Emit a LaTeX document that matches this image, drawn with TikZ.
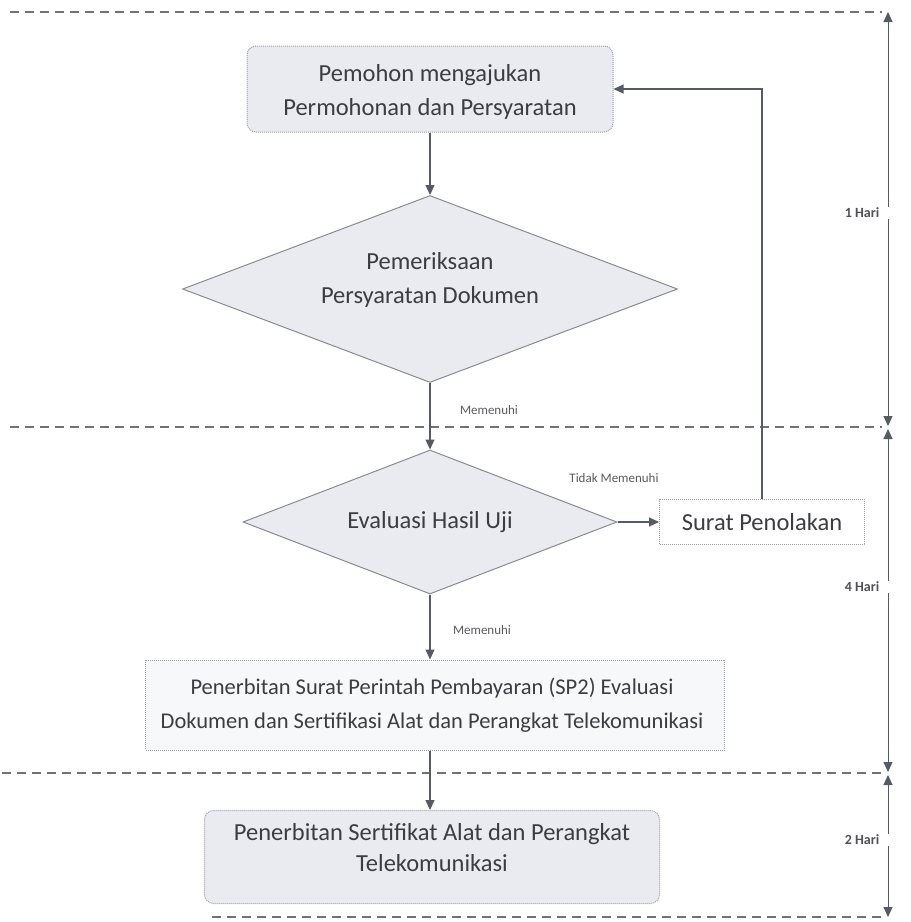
\documentclass[tikz,border=0pt]{standalone}
\usepackage{fontspec}
\setmainfont{Carlito}
\usetikzlibrary{shapes.geometric,arrows.meta}
\definecolor{txt}{HTML}{3C3D42}
\definecolor{ln}{HTML}{555A64}
\definecolor{shfill}{HTML}{E9EBF1}
\definecolor{bxedge}{HTML}{9A9EA8}
\definecolor{dash}{HTML}{6E727A}
\tikzset{
  x=1pt,y=-1pt,
  every node/.style={text=txt},
  flow/.style={draw=ln,line width=1.1pt,-{Triangle[width=9pt,length=10pt]}},
  tline/.style={draw=ln,line width=1pt,-{Triangle[width=9pt,length=10pt]}},
  sep/.style={draw=dash,line width=1.2pt,dash pattern=on 9pt off 6pt},
  big/.style={font=\fontsize{24.5}{34}\selectfont,align=center},
  rbox/.style={draw=bxedge,densely dotted,line width=1pt,fill=shfill,rounded corners=9pt},
  sbox/.style={draw=bxedge,densely dotted,line width=1pt,fill=white,big},
  wbox/.style={draw=bxedge,densely dotted,line width=1pt,fill=shfill!35},
  dec/.style={diamond,draw=ln!70,line width=1pt,fill=shfill,inner sep=0pt,shape aspect=2.6},
  lbl/.style={font=\fontsize{13}{15}\selectfont,text=txt!85},
  hari/.style={font=\fontsize{14}{16}\selectfont\bfseries,text=txt!90,fill=white,inner sep=1pt}
}
\begin{document}
\begin{tikzpicture}
\useasboundingbox (0,0) rectangle (911,922);
% separators
\coordinate (s1a) at (10,12);  \coordinate (s1b) at (882,12);
\coordinate (s2a) at (10,427); \coordinate (s2b) at (882,427);
\coordinate (s3a) at (2,773);  \coordinate (s3b) at (882,773);
\coordinate (s4a) at (212,917); \coordinate (s4b) at (882,917);
\draw[sep] (s1a) -- (s1b);
\draw[sep] (s2a) -- (s2b);
\draw[sep] (s3a) -- (s3b);
\draw[sep] (s4a) -- (s4b);
% shapes
\node[rbox,minimum width=366pt,minimum height=86pt] (b1) at (430,89) {};
\node[dec,minimum width=495pt,minimum height=187pt] (d1) at (430,289) {};
\node[dec,minimum width=374pt,minimum height=144pt] (d2) at (430,522) {};
\node[sbox,minimum width=205pt,minimum height=45pt] (sp) at (762,522) {Surat Penolakan};
\node[wbox,minimum width=579pt,minimum height=90pt] (b3) at (435,705) {};
\node[rbox,minimum width=455pt,minimum height=93pt] (b4) at (432,857) {};
% texts
\node[big] (b1t) at (430,92) {Pemohon mengajukan\\Permohonan dan Persyaratan};
\node[big] (d1t) at (430,280) {Pemeriksaan\\Persyaratan Dokumen};
\node[big] (d2t) at (430,522) {Evaluasi Hasil Uji};
\node[big,font=\fontsize{22.5}{34}\selectfont] (b3t) at (432,705) {Penerbitan Surat Perintah Pembayaran (SP2) Evaluasi\\Dokumen dan Sertifikasi Alat dan Perangkat Telekomunikasi};
\node[big,font=\fontsize{24.5}{31}\selectfont] (b4t) at (432,848) {Penerbitan Sertifikat Alat dan Perangkat\\Telekomunikasi};
% connectors
\draw[flow] (b1.south -| d1.north) -- (d1.north);
\draw[flow] (d1.south) -- (d2.north);
\draw[flow] (d2.east) -- (sp.west);
\draw[flow] (sp.north) |- (b1.east);
\draw[flow] (d2.south) -- (d2.south |- b3.north);
\draw[flow] (d2.south |- b3.south) -- (d2.south |- b4.north);
% labels
\node[lbl] (m1) at (489,410) {Memenuhi};
\node[lbl] (tm) at (614,478) {Tidak Memenuhi};
\node[lbl] (m2) at (482,630) {Memenuhi};
% timeline
\node[hari] (h1) at (862,213) {1 Hari};
\node[hari] (h2) at (862,587) {4 Hari};
\node[hari] (h3) at (862,840) {2 Hari};
\coordinate (t0) at (888,12);
\coordinate (t1) at (888,426);
\coordinate (t2) at (888,429);
\coordinate (t3) at (888,772);
\coordinate (t4) at (888,775);
\coordinate (t5) at (888,917);
\draw[tline] (h1.north -| t0) -- (t0);
\draw[tline] (h1.south -| t0) -- (t1);
\draw[tline] (h2.north -| t0) -- (t2);
\draw[tline] (h2.south -| t0) -- (t3);
\draw[tline] (h3.north -| t0) -- (t4);
\draw[tline] (h3.south -| t0) -- (t5);
\end{tikzpicture}
\end{document}
